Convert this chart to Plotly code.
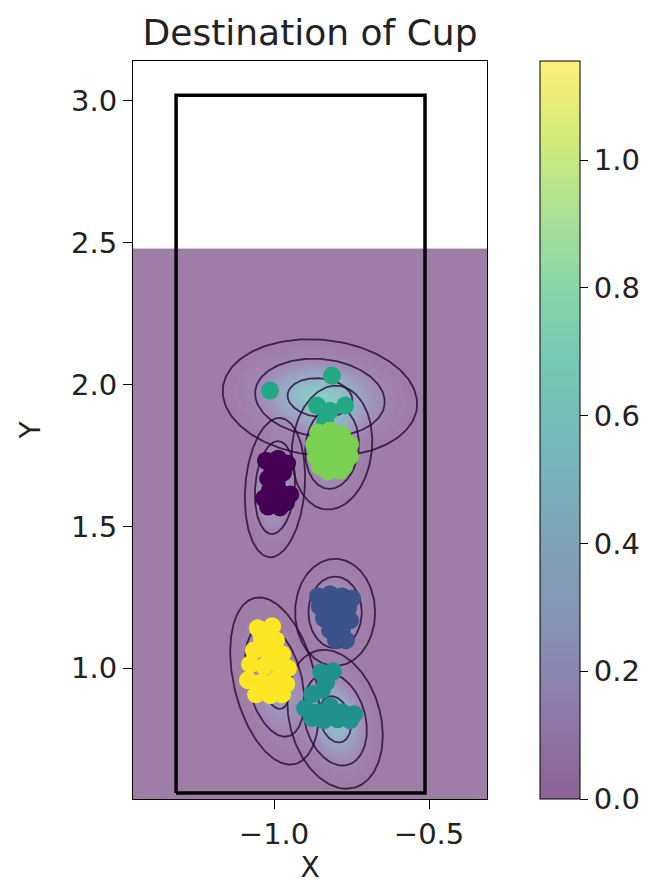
import numpy as np
import plotly.graph_objects as go

# ---------------- data ----------------
# scatter clusters (value used for viridis colour)
purple_x = [-1.026, -0.987, -0.958, -1.006, -0.971, -1.019, -0.994, -1.013, -0.981, -0.948,
            -1.032, -1.000, -0.961, -1.019, -0.981, -1.006]
purple_y = [1.732, 1.739, 1.722, 1.704, 1.690, 1.669, 1.655, 1.627, 1.620, 1.613,
            1.599, 1.592, 1.585, 1.570, 1.567, 1.609]

blue_x = [-0.858, -0.819, -0.781, -0.748, -0.852, -0.806, -0.761, -0.839, -0.794, -0.755,
          -0.819, -0.781, -0.800, -0.768]
blue_y = [1.254, 1.261, 1.254, 1.246, 1.218, 1.218, 1.211, 1.176, 1.176, 1.169,
          1.134, 1.134, 1.099, 1.099]

teal_low_x = [-0.848, -0.810, -0.832, -0.877, -0.845, -0.900, -0.858, -0.819, -0.781, -0.742,
              -0.839, -0.794, -0.755, -0.877]
teal_low_y = [0.986, 0.989, 0.951, 0.908, 0.923, 0.859, 0.845, 0.866, 0.845, 0.838,
              0.817, 0.820, 0.817, 0.824]

teal_high_x = [-1.013, -0.813, -0.861, -0.771, -0.835, -0.819]
teal_high_y = [1.979, 2.032, 1.926, 1.926, 1.873, 1.908]

green_x = [-0.858, -0.819, -0.781, -0.871, -0.832, -0.794, -0.755, -0.865, -0.826, -0.787,
           -0.755, -0.852, -0.813, -0.774, -0.826, -0.787]
green_y = [1.831, 1.838, 1.824, 1.789, 1.796, 1.782, 1.789, 1.746, 1.750, 1.739,
           1.746, 1.711, 1.704, 1.711, 1.694, 1.697]

yellow_x = [-1.052, -1.006, -1.039, -0.994, -1.065, -1.019, -0.974, -1.077, -1.032, -0.987,
            -0.955, -1.084, -1.039, -0.994, -0.961, -1.058, -1.013, -0.974, -1.026]
yellow_y = [1.141, 1.148, 1.106, 1.099, 1.063, 1.056, 1.049, 1.014, 1.007, 1.014,
            1.000, 0.958, 0.951, 0.958, 0.944, 0.908, 0.905, 0.908, 0.930]

cluster_values = [0.0, 0.25, 0.5, 0.6, 0.8, 1.0]

# Gaussian components (purple, blue, teal low, teal high, green, yellow)
comp_cx = [-0.997, -0.803, -0.803, -0.852, -0.813, -0.998]
comp_cy = [1.637, 1.197, 0.820, 1.954, 1.778, 0.955]
comp_sx = [0.032, 0.043, 0.049, 0.105, 0.043, 0.044]
comp_sy = [0.082, 0.063, 0.083, 0.068, 0.073, 0.100]
comp_angle = [-4, 0, 13, -7, -5, 12]
comp_peak = [0.32, 0.32, 0.55, 0.62, 0.38, 0.32]
ring_levels = [1, 2, 3]

# table outline
table_x = [-1.316, -0.513]
table_y = [0.56, 3.02]

# density grid extent
grid_x = [-1.455, -0.313]
grid_y = [0.539, 2.48]

x_ticks = [-1.0, -0.5]
y_ticks = [1.0, 1.5, 2.0, 2.5, 3.0]
cbar_ticks = [0.0, 0.2, 0.4, 0.6, 0.8, 1.0]
z_max = 1.155

# ---------------- build ----------------
viridis = ["#440154", "#482475", "#414487", "#355f8d", "#2a788e", "#21918c",
           "#22a884", "#44bf70", "#7ad151", "#bddf26", "#fde725"]


def faded(h, a):
    h = h.lstrip("#")
    r, g, b = (int(h[i:i + 2], 16) for i in (0, 2, 4))
    f = lambda c: round(255 - a * (255 - c))
    return f"rgb({f(r)},{f(g)},{f(b)})"


fill_scale = [[i / (len(viridis) - 1), faded(c, 0.52)] for i, c in enumerate(viridis)]
bar_scale = [[i / (len(viridis) - 1), faded(c, 0.62)] for i, c in enumerate(viridis)]
solid_scale = [[i / (len(viridis) - 1), c] for i, c in enumerate(viridis)]

gx = np.linspace(grid_x[0], grid_x[1], 260)
gy = np.linspace(grid_y[0], grid_y[1], 440)
GX, GY = np.meshgrid(gx, gy)
Z = np.zeros_like(GX)
for cx, cy, sx, sy, ang, pk in zip(comp_cx, comp_cy, comp_sx, comp_sy, comp_angle, comp_peak):
    th = np.deg2rad(ang)
    dx, dy = GX - cx, GY - cy
    u = dx * np.cos(th) + dy * np.sin(th)
    v = -dx * np.sin(th) + dy * np.cos(th)
    Z += pk * np.exp(-0.5 * ((u / sx) ** 2 + (v / sy) ** 2))

tick_font = dict(family="DejaVu Sans", size=29, color="#222")

fig = go.Figure()
fig.add_trace(go.Contour(
    x=gx, y=gy, z=Z, colorscale=fill_scale, zmin=0, zmax=z_max,
    autocontour=False, contours=dict(start=0, end=z_max, size=z_max / 60, coloring="fill"),
    line=dict(width=0), hoverinfo="skip", showscale=False,
))

# colorbar carrier
fig.add_trace(go.Scatter(
    x=[grid_x[0]], y=[grid_y[0]], mode="markers", hoverinfo="skip", showlegend=False,
    marker=dict(size=1, opacity=0, color=[0], colorscale=bar_scale, cmin=0, cmax=z_max,
                showscale=True,
                colorbar=dict(thickness=40, len=1, lenmode="fraction", y=0.5, yanchor="middle",
                              x=1.15, xanchor="left", xpad=0, ypad=0, outlinewidth=1,
                              outlinecolor="black", ticks="outside", ticklen=8, tickwidth=1.3,
                              tickcolor="black", tickvals=cbar_ticks, tickformat=".1f",
                              tickfont=tick_font)),
))

# ellipses
ex, ey = [], []
t = np.linspace(0, 2 * np.pi, 181)
for cx, cy, sx, sy, ang in zip(comp_cx, comp_cy, comp_sx, comp_sy, comp_angle):
    th = np.deg2rad(ang)
    for k in ring_levels:
        u = k * sx * np.cos(t)
        v = k * sy * np.sin(t)
        ex += list(cx + u * np.cos(th) - v * np.sin(th)) + [None]
        ey += list(cy + u * np.sin(th) + v * np.cos(th)) + [None]
fig.add_trace(go.Scatter(x=ex, y=ey, mode="lines", hoverinfo="skip", showlegend=False,
                         line=dict(color="rgba(40,6,55,0.8)", width=1.8)))

# scatter clusters
clusters = [(purple_x, purple_y), (blue_x, blue_y), (teal_low_x, teal_low_y),
            (teal_high_x, teal_high_y), (green_x, green_y), (yellow_x, yellow_y)]
for (cx, cy), val in zip(clusters, cluster_values):
    fig.add_trace(go.Scatter(
        x=cx, y=cy, mode="markers", showlegend=False,
        marker=dict(size=18, color=[val] * len(cx), colorscale=solid_scale, cmin=0, cmax=1,
                    line=dict(width=0)),
    ))

# table rectangle
fig.add_trace(go.Scatter(
    x=[table_x[0], table_x[1], table_x[1], table_x[0], table_x[0]],
    y=[table_y[0], table_y[0], table_y[1], table_y[1], table_y[0]],
    mode="lines", line=dict(color="black", width=3.5), showlegend=False, hoverinfo="skip"))

axis_common = dict(showgrid=False, zeroline=False, showline=True, mirror=True,
                   linecolor="black", linewidth=1, ticks="outside", ticklen=9,
                   tickwidth=1.3, tickcolor="black", automargin=False, tickfont=tick_font)

fig.update_layout(
    width=652, height=884,
    margin=dict(l=133, r=165, t=61, b=85, autoexpand=False),
    paper_bgcolor="white", plot_bgcolor="white",
    showlegend=False,
    title=dict(text="Destination of Cup", x=310 / 652, xanchor="center",
               y=1 - 32 / 884, yanchor="middle",
               font=dict(family="DejaVu Sans", size=36, color="#222")),
    xaxis=dict(range=[-1.455, -0.313], tickvals=x_ticks, tickformat=".1f",
               title=dict(text="X", standoff=12,
                          font=dict(family="DejaVu Sans", size=28, color="#222")),
               **axis_common),
    yaxis=dict(range=[0.539, 3.141], tickvals=y_ticks, tickformat=".1f",
               title=dict(text="Y", standoff=22,
                          font=dict(family="DejaVu Sans", size=28, color="#222")),
               **axis_common),
)

fig.write_html("out.html", config={"displayModeBar": False},
               post_script="document.body.style.margin='0px';")
